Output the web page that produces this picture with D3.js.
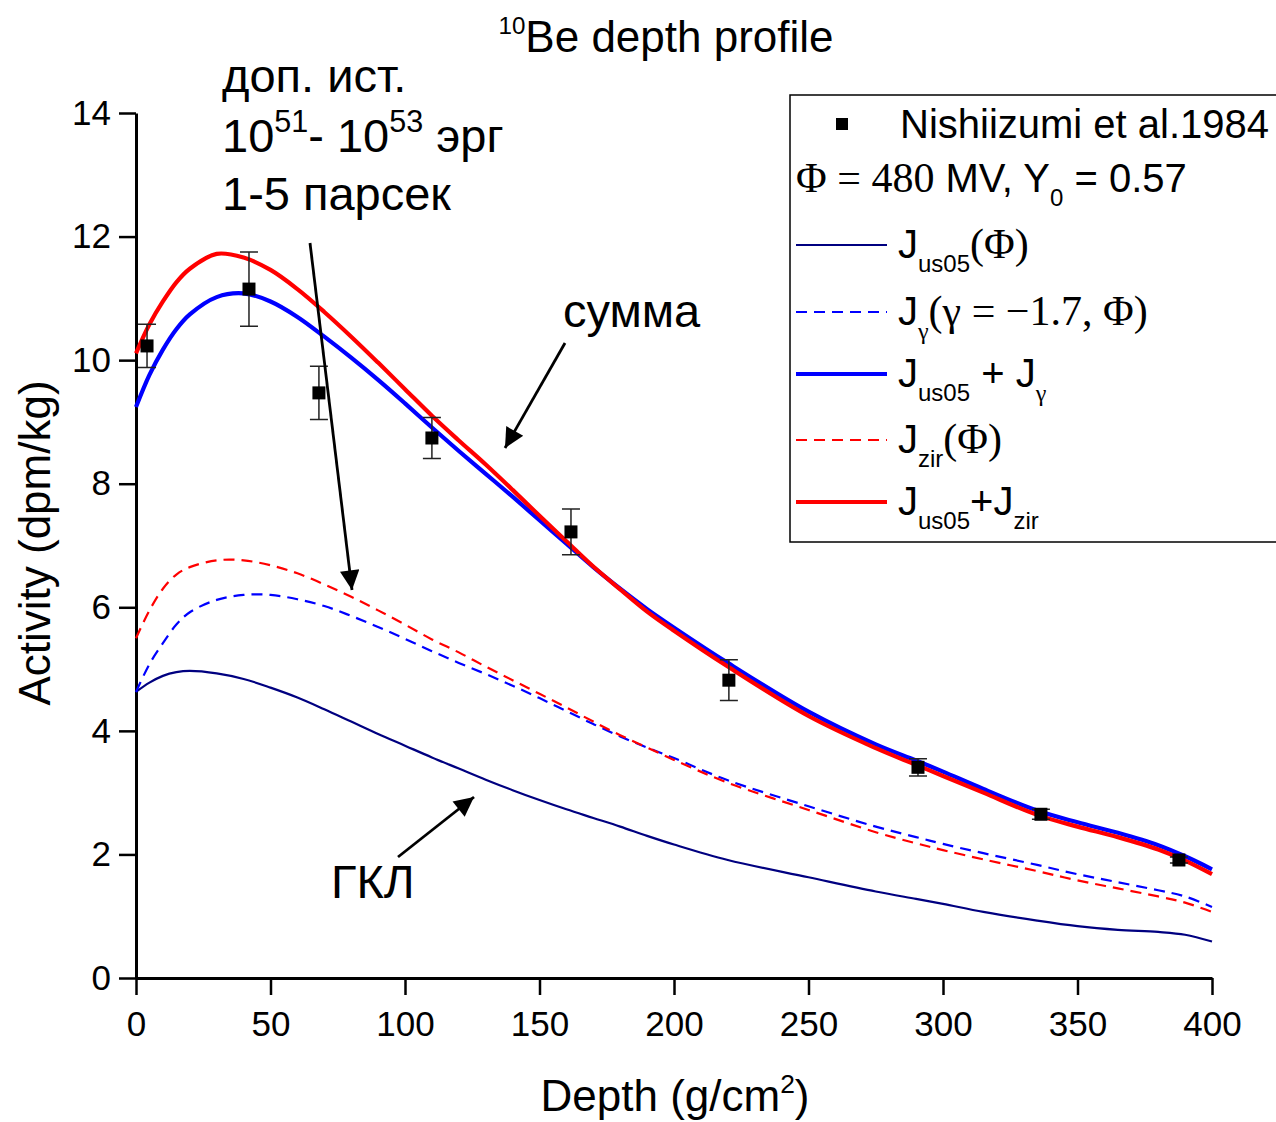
<!DOCTYPE html>
<html>
<head>
<meta charset="utf-8">
<script src="https://cdn.jsdelivr.net/npm/d3@7"></script>
<style>
  body { margin: 0; background: #fff; }
  svg { font-family: Arial, "Liberation Sans", sans-serif; }
</style>
</head>
<body>
<svg id="chart"></svg>
<script>
// depth grid (g/cm2) shared by the model curves
const depth = [0, 5, 10, 15, 20, 30, 40, 50, 60, 70, 80, 90, 100, 110, 120, 130, 140, 150,
  160, 170, 180, 190, 200, 220, 250, 275, 290, 300, 315, 335, 350, 365, 380, 390, 400];

const jUs05 = [4.63, 4.78, 4.89, 4.95, 4.97, 4.93, 4.84, 4.70, 4.54, 4.35, 4.15, 3.95, 3.76, 3.57,
  3.39, 3.21, 3.04, 2.88, 2.73, 2.59, 2.45, 2.30, 2.16, 1.91, 1.63, 1.40, 1.28, 1.20, 1.07,
  0.93, 0.84, 0.78, 0.745, 0.70, 0.59];
const jGamma = [4.63, 5.08, 5.42, 5.72, 5.92, 6.12, 6.20, 6.20, 6.13, 6.02, 5.86, 5.68, 5.49, 5.29,
  5.10, 4.92, 4.73, 4.53, 4.32, 4.11, 3.91, 3.73, 3.56, 3.20, 2.78, 2.45, 2.28, 2.17, 2.02,
  1.83, 1.68, 1.55, 1.42, 1.32, 1.15];
const jSumGamma = [9.24, 9.76, 10.17, 10.50, 10.74, 11.02, 11.08, 10.95, 10.70, 10.38, 10.04, 9.68,
  9.30, 8.91, 8.53, 8.16, 7.79, 7.41, 7.03, 6.65, 6.30, 5.97, 5.67, 5.10, 4.31, 3.78, 3.52,
  3.34, 3.06, 2.71, 2.52, 2.35, 2.15, 1.97, 1.76];
const jZir = [5.50, 5.95, 6.30, 6.53, 6.65, 6.76, 6.76, 6.68, 6.55, 6.37, 6.17, 5.95, 5.72, 5.48,
  5.27, 5.04, 4.82, 4.60, 4.38, 4.15, 3.93, 3.73, 3.53, 3.16, 2.72, 2.36, 2.18, 2.07, 1.92,
  1.73, 1.58, 1.45, 1.32, 1.22, 1.07];
const jSumZir = [10.11, 10.58, 10.95, 11.26, 11.48, 11.72, 11.66, 11.46, 11.15, 10.78, 10.38, 9.96,
  9.53, 9.10, 8.70, 8.31, 7.90, 7.48, 7.07, 6.66, 6.29, 5.93, 5.62, 5.04, 4.24, 3.72, 3.45,
  3.27, 3.00, 2.64, 2.45, 2.28, 2.08, 1.90, 1.68];

// Nishiizumi et al. 1984 measurements
const pointDepth = [4.1, 42, 68, 110, 161.7, 220.4, 290.7, 336.4, 387.7];
const pointActivity = [10.23, 11.15, 9.47, 8.74, 7.22, 4.82, 3.41, 2.65, 1.91];
const pointError = [0.35, 0.6, 0.43, 0.33, 0.37, 0.33, 0.14, 0.08, 0.05];

const xTicks = [0, 50, 100, 150, 200, 250, 300, 350, 400];
const yTicks = [0, 2, 4, 6, 8, 10, 12, 14];

const SERIF = '"Liberation Serif", "Times New Roman", serif';
const width = 1276, height = 1122;

const svg = d3.select('#chart').attr('width', width).attr('height', height);

const x = d3.scaleLinear().domain([0, 400]).range([136, 1212]);
const y = d3.scaleLinear().domain([0, 14]).range([978, 113]);

// text with sub/superscripts and mixed fonts
function richText(parent, px, py, size, parts, anchor) {
  const t = parent.append('text')
    .attr('x', px).attr('y', py)
    .attr('font-size', size)
    .attr('fill', '#000')
    .attr('text-anchor', anchor || 'start');
  let shift = 0;
  parts.forEach(function(p) {
    const target = p.sub ? size * 0.36 : p.sup ? -size * 0.42 : 0;
    const s = t.append('tspan').attr('dy', target - shift).text(p.t);
    shift = target;
    if (p.sub || p.sup) s.attr('font-size', size * (p.small || 0.6));
    else if (p.size) s.attr('font-size', p.size);
    if (p.serif) s.attr('font-family', SERIF);
  });
  return t;
}

// axes
const xAxis = svg.append('g').attr('transform', 'translate(0,' + y(0) + ')');
xAxis.call(d3.axisBottom(x).tickValues(d3.range(25, 400, 50)).tickSize(9).tickFormat('').tickSizeOuter(0));
xAxis.call(d3.axisBottom(x).tickValues(xTicks).tickSize(17).tickPadding(16).tickSizeOuter(0));

const yAxis = svg.append('g').attr('transform', 'translate(' + x(0) + ',0)');
yAxis.call(d3.axisLeft(y).tickValues(d3.range(1, 14, 2)).tickSize(9).tickFormat('').tickSizeOuter(0));
yAxis.call(d3.axisLeft(y).tickValues(yTicks).tickSize(17).tickPadding(8).tickSizeOuter(0));

svg.selectAll('.domain').attr('stroke-width', 3);
svg.selectAll('.tick line').attr('stroke-width', 2.5);
svg.selectAll('.tick text').attr('font-size', 35).attr('font-family', 'Arial, "Liberation Sans", sans-serif');

// curves
const line = d3.line()
  .x(function(d) { return x(d[0]); })
  .y(function(d) { return y(d[1]); })
  .curve(d3.curveCatmullRom.alpha(0.5));

const series = [
  { values: jUs05, color: '#000080', width: 2.2, dash: null },
  { values: jGamma, color: '#0000ff', width: 2.2, dash: '11,7' },
  { values: jZir, color: '#ff0000', width: 2.2, dash: '11,7' },
  { values: jSumGamma, color: '#0000ff', width: 4.2, dash: null },
  { values: jSumZir, color: '#ff0000', width: 4.2, dash: null }
];

series.forEach(function(s) {
  svg.append('path')
    .datum(depth.map(function(d, i) { return [d, s.values[i]]; }))
    .attr('fill', 'none')
    .attr('stroke', s.color)
    .attr('stroke-width', s.width)
    .attr('stroke-dasharray', s.dash)
    .attr('d', line);
});

// measured points with error bars
const pts = pointDepth.map(function(d, i) {
  return { d: d, v: pointActivity[i], e: pointError[i] };
});
const pg = svg.append('g').attr('stroke', '#222').attr('stroke-width', 1.5);
pg.selectAll('.err').data(pts).enter().append('path')
  .attr('fill', 'none')
  .attr('d', function(p) {
    const cx = x(p.d), y1 = y(p.v + p.e), y2 = y(p.v - p.e);
    return 'M' + (cx - 9) + ',' + y1 + 'H' + (cx + 9) +
      'M' + cx + ',' + y1 + 'V' + y2 +
      'M' + (cx - 9) + ',' + y2 + 'H' + (cx + 9);
  });
svg.selectAll('.pt').data(pts).enter().append('rect')
  .attr('x', function(p) { return x(p.d) - 6.5; })
  .attr('y', function(p) { return y(p.v) - 6.5; })
  .attr('width', 13).attr('height', 13)
  .attr('fill', '#000');

// title and axis titles
richText(svg, 666, 52, 44, [{ t: '10', sup: true, small: 0.55 }, { t: 'Be depth profile' }], 'middle');
richText(svg, 675, 1111, 44, [{ t: 'Depth (g/cm' }, { t: '2', sup: true }, { t: ')' }], 'middle');
svg.append('text')
  .attr('transform', 'translate(50,543) rotate(-90)')
  .attr('text-anchor', 'middle')
  .attr('font-size', 44)
  .text('Activity (dpm/kg)');

// legend
const lg = svg.append('g');
lg.append('rect')
  .attr('x', 790).attr('y', 95).attr('width', 500).attr('height', 447)
  .attr('fill', '#fff').attr('stroke', '#000').attr('stroke-width', 1.5);
lg.append('rect').attr('x', 836).attr('y', 118).attr('width', 12).attr('height', 12).attr('fill', '#000');
richText(lg, 900, 138, 40, [{ t: 'Nishiizumi et al.1984' }]);
richText(lg, 796, 192, 40, [
  { t: 'Φ = 480', serif: true, size: 42 }, { t: ' MV, Y' }, { t: '0', sub: true }, { t: ' = 0.57' }
]);

const legendRows = [
  { y: 245, color: '#000080', width: 2.2, dash: null,
    parts: [{ t: 'J' }, { t: 'us05', sub: true }, { t: '(Φ)', serif: true, size: 42 }] },
  { y: 312, color: '#0000ff', width: 2.2, dash: '11,7',
    parts: [{ t: 'J' }, { t: 'γ', sub: true, serif: true }, { t: '(γ = −1.7, Φ)', serif: true, size: 42 }] },
  { y: 374, color: '#0000ff', width: 4.2, dash: null,
    parts: [{ t: 'J' }, { t: 'us05', sub: true }, { t: ' + J' }, { t: 'γ', sub: true, serif: true }] },
  { y: 440, color: '#ff0000', width: 2.2, dash: '11,7',
    parts: [{ t: 'J' }, { t: 'zir', sub: true }, { t: '(Φ)', serif: true, size: 42 }] },
  { y: 502, color: '#ff0000', width: 4.2, dash: null,
    parts: [{ t: 'J' }, { t: 'us05', sub: true }, { t: '+J' }, { t: 'zir', sub: true }] }
];
legendRows.forEach(function(r) {
  lg.append('line')
    .attr('x1', 796).attr('x2', 887).attr('y1', r.y).attr('y2', r.y)
    .attr('stroke', r.color).attr('stroke-width', r.width)
    .attr('stroke-dasharray', r.dash);
  richText(lg, 898, r.y + 13, 40, r.parts);
});

// annotations
svg.append('defs').append('marker')
  .attr('id', 'arrow')
  .attr('viewBox', '0 0 10 10')
  .attr('refX', 10).attr('refY', 5)
  .attr('markerWidth', 8).attr('markerHeight', 7)
  .attr('markerUnits', 'strokeWidth')
  .attr('orient', 'auto')
  .append('path').attr('d', 'M0,0L10,5L0,10Z').attr('fill', '#000');

richText(svg, 222, 92, 47, [{ t: 'доп. ист.' }]);
richText(svg, 222, 152, 47, [{ t: '10' }, { t: '51', sup: true, small: 0.65 }, { t: '- 10' }, { t: '53', sup: true, small: 0.65 }, { t: ' эрг' }]);
richText(svg, 222, 210, 47, [{ t: '1-5 парсек' }]);
richText(svg, 563, 327, 47, [{ t: 'сумма' }]);
richText(svg, 331, 898, 47, [{ t: 'ГКЛ' }]);

const arrows = [
  [310, 243, 352, 590],
  [565, 343, 505, 448],
  [398, 857, 474, 797]
];
svg.selectAll('.arrow').data(arrows).enter().append('line')
  .attr('x1', function(a) { return a[0]; })
  .attr('y1', function(a) { return a[1]; })
  .attr('x2', function(a) { return a[2]; })
  .attr('y2', function(a) { return a[3]; })
  .attr('stroke', '#000').attr('stroke-width', 2.8)
  .attr('marker-end', 'url(#arrow)');
</script>
</body>
</html>
